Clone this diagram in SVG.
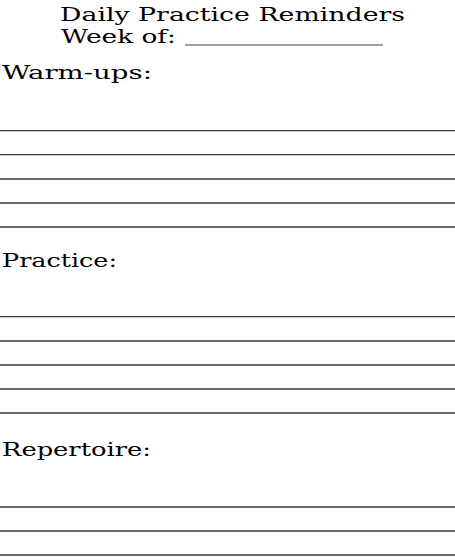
<svg xmlns="http://www.w3.org/2000/svg" width="455" height="560" viewBox="0 0 455 560">
<style>
  .t { font-family: "DejaVu Serif", "Liberation Serif", serif; font-size: 18.5px; fill: #000; }
  .rule { stroke: #3a3a3a; stroke-width: 1.3; }
  .blank { stroke: #808080; stroke-width: 1.5; }
</style>
<rect width="455" height="560" fill="#fff"/>
<g id="header">
  <text class="t" x="60" y="20.7" textLength="345" lengthAdjust="spacingAndGlyphs">Daily Practice Reminders</text>
  <text class="t" x="61" y="43.3" textLength="115" lengthAdjust="spacingAndGlyphs">Week of:</text>
  <line class="blank" x1="185" y1="45" x2="383" y2="45"/>
</g>
<g id="warmups">
  <text class="t" x="2" y="79.3" textLength="150" lengthAdjust="spacingAndGlyphs">Warm-ups:</text>
  <line class="rule" x1="0" y1="130.7" x2="455" y2="130.7"/>
  <line class="rule" x1="0" y1="154.7" x2="455" y2="154.7"/>
  <line class="rule" x1="0" y1="179" x2="455" y2="179"/>
  <line class="rule" x1="0" y1="203" x2="455" y2="203"/>
  <line class="rule" x1="0" y1="227" x2="455" y2="227"/>
</g>
<g id="practice">
  <text class="t" x="2" y="266.7" textLength="115" lengthAdjust="spacingAndGlyphs">Practice:</text>
  <line class="rule" x1="0" y1="316.7" x2="455" y2="316.7"/>
  <line class="rule" x1="0" y1="341" x2="455" y2="341"/>
  <line class="rule" x1="0" y1="365" x2="455" y2="365"/>
  <line class="rule" x1="0" y1="389" x2="455" y2="389"/>
  <line class="rule" x1="0" y1="413" x2="455" y2="413"/>
</g>
<g id="repertoire">
  <text class="t" x="2" y="456" textLength="149" lengthAdjust="spacingAndGlyphs">Repertoire:</text>
  <line class="rule" x1="0" y1="507" x2="455" y2="507"/>
  <line class="rule" x1="0" y1="531" x2="455" y2="531"/>
  <line class="rule" x1="0" y1="555" x2="455" y2="555"/>
</g>
</svg>
